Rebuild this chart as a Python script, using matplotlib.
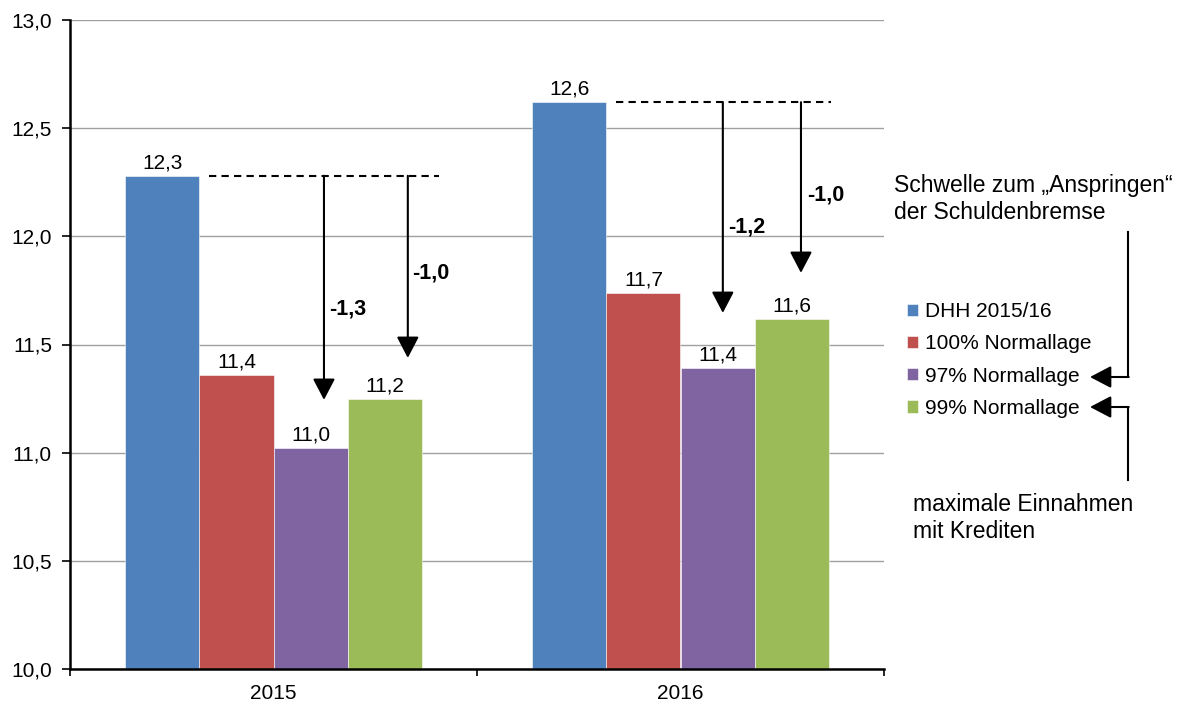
import matplotlib
matplotlib.use("Agg")
import matplotlib.pyplot as plt
from matplotlib.lines import Line2D
from matplotlib.patches import FancyArrowPatch
import numpy as np

plt.rcParams["font.family"] = ["Liberation Sans", "DejaVu Sans"]
plt.rcParams["font.size"] = 15

years = ["2015", "2016"]
series = ["DHH 2015/16", "100% Normallage", "97% Normallage", "99% Normallage"]
colors = ["#4F81BD", "#C0504D", "#8064A2", "#9BBB59"]
values = [
    [12.28, 12.62],   # DHH 2015/16
    [11.36, 11.74],   # 100% Normallage
    [11.02, 11.39],   # 97% Normallage
    [11.25, 11.62],   # 99% Normallage
]
# gap to the threshold per year: (label, arrow x, arrow tip, label x, label y)
deltas = [
    [("-1,3", 0.124, 11.244, 0.136, 11.664), ("-1,0", 0.330, 11.438, 0.340, 11.831)],
    [("-1,2", 1.104, 11.646, 1.117, 12.043), ("-1,0", 1.296, 11.831, 1.311, 12.191)],
]
dash_span = [(-0.158, 0.407), (0.842, 1.370)]

fig = plt.figure(figsize=(11.86, 7.04), dpi=100)
ax = fig.add_axes([70 / 1186, 1 - 669 / 704, 814 / 1186, 649 / 704])

x = np.arange(len(years))
w = 0.182
handles = []
for i, (name, col, vals) in enumerate(zip(series, colors, values)):
    pos = x + (i - 1.5) * w
    bars = ax.bar(pos, np.array(vals) - 10, w, bottom=10,
                  color=col, edgecolor="white", linewidth=0.4, label=name, zorder=3)
    handles.append(bars)
    for xi, v in zip(pos, vals):
        ax.annotate(f"{v:.1f}".replace(".", ","), (xi, v), xytext=(0, 2.5),
                    textcoords="offset points", ha="center", va="bottom", fontsize=15)

# threshold lines and arrows
for k in range(len(years)):
    top = values[0][k]
    ax.hlines(top, *dash_span[k], colors="black", linestyles=(0, (3.5, 2.5)),
              linewidth=1.5, zorder=4)
    for label, ax_x, tip, lx, ly in deltas[k]:
        ax.annotate("", xy=(ax_x, tip), xytext=(ax_x, top),
                    arrowprops=dict(arrowstyle="-|>,head_length=0.65,head_width=0.34",
                                    mutation_scale=20, color="black", lw=1.5,
                                    shrinkA=0, shrinkB=0), zorder=5)
        ax.text(lx, ly, label, fontsize=15.5, fontweight="bold", ha="left", va="center")

ax.set_xlim(-0.5, 1.5)
ax.set_ylim(10, 13)
yt = np.arange(10, 13.01, 0.5)
ax.set_yticks(yt)
ax.set_yticklabels([f"{t:.1f}".replace(".", ",") for t in yt])
ax.set_xticks(x)
ax.set_xticklabels(years)
ax.set_xticks([-0.5, 0.5, 1.5], minor=True)
ax.tick_params(axis="x", which="major", length=0, pad=11)
ax.tick_params(axis="x", which="minor", length=5, width=1.2, direction="out")
ax.tick_params(axis="y", length=6, width=1.2, pad=7)
ax.yaxis.grid(True, color="#A0A0A0", linewidth=1, zorder=0)
ax.set_axisbelow(True)
for s in ("top", "right"):
    ax.spines[s].set_visible(False)
for s in ("left", "bottom"):
    ax.spines[s].set_linewidth(1.8)
    ax.spines[s].set_zorder(6)

fig.legend(handles=handles, labels=series, loc="center left",
           bbox_to_anchor=(907 / 1186, 1 - 360 / 704), frameon=False,
           borderpad=0, borderaxespad=0, handlelength=0.55, handleheight=0.55,
           handletextpad=0.3, labelspacing=0.63, fontsize=15)

# side notes with bent arrows
def fx(px):
    return px / 1186

def fy(py):
    return 1 - py / 704

fig.text(fx(894), fy(199), "Schwelle zum \u201eAnspringen\u201c\nder Schuldenbremse",
         ha="left", va="center", fontsize=16.5, linespacing=1.2)
fig.text(fx(913), fy(518), "maximale Einnahmen\nmit Krediten",
         ha="left", va="center", fontsize=16.5, linespacing=1.2)

for y0, y1 in [(232, 377), (480, 407)]:
    fig.add_artist(Line2D([fx(1128), fx(1128)], [fy(y0), fy(y1)], color="black", lw=1.5))
    fig.add_artist(FancyArrowPatch(
        (fx(1128) + 0.0006, fy(y1)), (fx(1090), fy(y1)), transform=fig.transFigure,
        arrowstyle="-|>,head_length=0.65,head_width=0.34", mutation_scale=20,
        color="black", lw=1.5, shrinkA=0, shrinkB=0))

fig.savefig("out.png", dpi=100)
